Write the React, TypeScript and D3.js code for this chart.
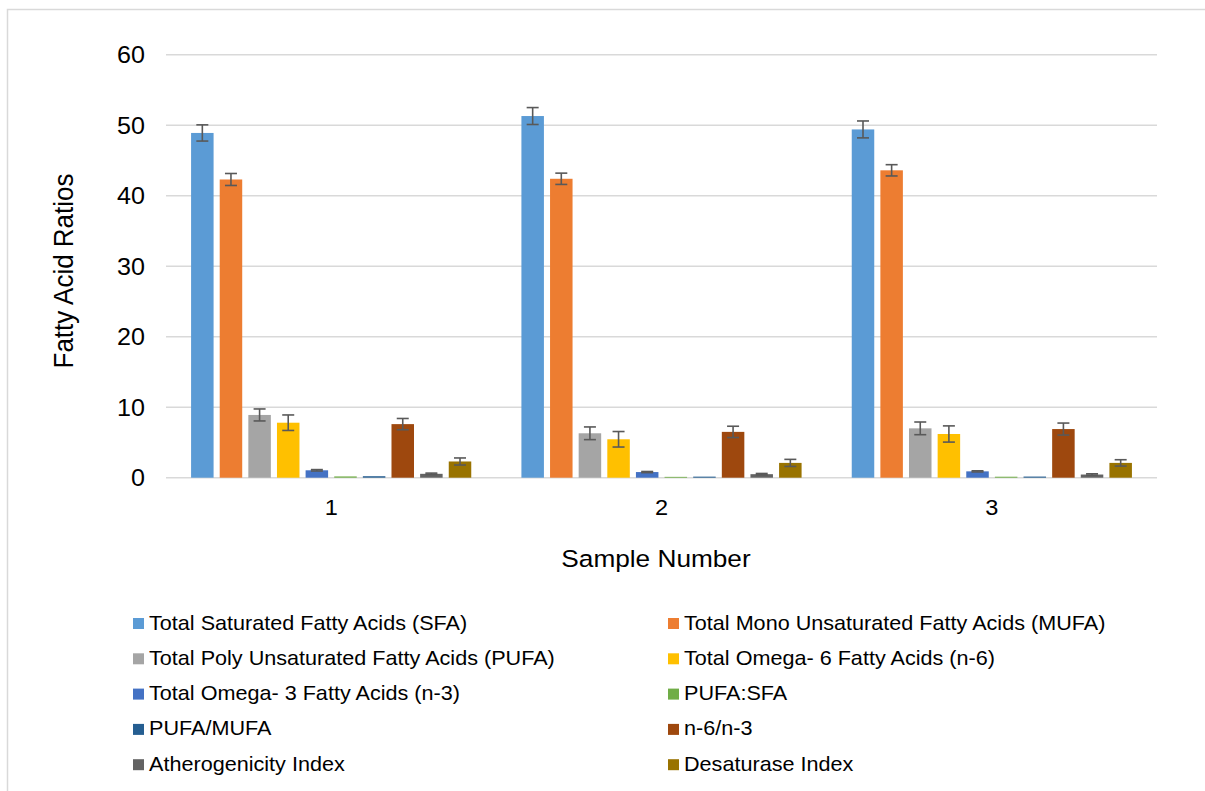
import React from "react";
import * as d3 from "d3";

const categories = ["1", "2", "3"];
const seriesNames = [
  "Total Saturated Fatty Acids (SFA)",
  "Total Mono Unsaturated Fatty Acids (MUFA)",
  "Total Poly Unsaturated Fatty Acids (PUFA)",
  "Total Omega- 6 Fatty Acids (n-6)",
  "Total Omega- 3 Fatty Acids (n-3)",
  "PUFA:SFA",
  "PUFA/MUFA",
  "n-6/n-3",
  "Atherogenicity Index",
  "Desaturase Index",
];
const seriesColors = [
  "#5B9BD5", "#ED7D31", "#A5A5A5", "#FFC000", "#4472C4",
  "#70AD47", "#255E91", "#9E480E", "#636363", "#997300",
];
const sfa = [48.9, 51.3, 49.4];
const mufa = [42.3, 42.4, 43.6];
const pufa = [8.9, 6.3, 7.0];
const n6 = [7.8, 5.45, 6.2];
const n3 = [1.05, 0.8, 0.9];
const pufaSfa = [0.18, 0.12, 0.14];
const pufaMufa = [0.21, 0.15, 0.16];
const n6n3 = [7.6, 6.5, 6.9];
const athero = [0.55, 0.5, 0.45];
const desat = [2.3, 2.1, 2.1];
const seriesValues = [sfa, mufa, pufa, n6, n3, pufaSfa, pufaMufa, n6n3, athero, desat];

const sfaErr = [1.15, 1.2, 1.2];
const mufaErr = [0.85, 0.8, 0.8];
const pufaErr = [0.85, 0.9, 0.9];
const n6Err = [1.1, 1.1, 1.15];
const n3Err = [0.1, 0.08, 0.08];
const pufaSfaErr = [0, 0, 0];
const pufaMufaErr = [0, 0, 0];
const n6n3Err = [0.8, 0.8, 0.85];
const atheroErr = [0.1, 0.1, 0.1];
const desatErr = [0.5, 0.5, 0.45];
const seriesErrors = [sfaErr, mufaErr, pufaErr, n6Err, n3Err, pufaSfaErr, pufaMufaErr, n6n3Err, atheroErr, desatErr];

const yTicks = [0, 10, 20, 30, 40, 50, 60];

const FONT = "Liberation Sans, Arial, sans-serif";
const SX = 1.07;

export default function App() {
  const W = 1205, H = 791;
  const x0 = d3.scaleBand().domain(categories).range([166, 1157]).padding(0);
  const x1 = d3.scaleBand().domain(seriesNames).range([0, x0.bandwidth()]).paddingInner(0.214).paddingOuter(0.876);
  const y = d3.scaleLinear().domain([0, 60]).range([477.7, 54.7]);

  return (
    <svg width={W} height={H} style={{ position: "absolute", left: 0, top: 0, background: "#fff" }} fontFamily={FONT}>
      <rect x={7.5} y={9.5} width={1210} height={800} fill="#fff" stroke="#d9d9d9" strokeWidth={1.5} />
      {yTicks.map((t) => (
        <g key={t}>
          <line x1={166} x2={1157} y1={y(t)} y2={y(t)} stroke="#d9d9d9" strokeWidth={1.4} />
          <text transform={`translate(145,${y(t) + 8.5}) scale(${SX},1)`} textAnchor="end" fontSize={23.5} fill="#000">{t}</text>
        </g>
      ))}
      {categories.map((c, ci) => (
        <g key={c}>
          {seriesNames.map((s, si) => {
            const v = seriesValues[si][ci];
            const e = seriesErrors[si][ci];
            const bx = (x0(c) as number) + (x1(s) as number);
            const bw = x1.bandwidth();
            const cx = bx + bw / 2;
            return (
              <g key={s}>
                <rect x={bx} y={y(v)} width={bw} height={y(0) - y(v)} fill={seriesColors[si]} />
                {e > 0 && (
                  <g stroke="#595959" strokeWidth={1.6}>
                    <line x1={cx} x2={cx} y1={y(v + e)} y2={y(v - e)} />
                    <line x1={cx - 6} x2={cx + 6} y1={y(v + e)} y2={y(v + e)} />
                    <line x1={cx - 6} x2={cx + 6} y1={y(v - e)} y2={y(v - e)} />
                  </g>
                )}
              </g>
            );
          })}
          <text transform={`translate(${(x0(c) as number) + x0.bandwidth() / 2},515) scale(${SX},1)`} textAnchor="middle" fontSize={22} fill="#000">{c}</text>
        </g>
      ))}
      <text transform={`translate(72.5,271) scale(${SX},1) rotate(-90)`} textAnchor="middle" fontSize={26} fill="#000">Fatty Acid Ratios</text>
      <text transform={`translate(656,567) scale(${SX},1)`} textAnchor="middle" fontSize={24.5} fill="#000">Sample Number</text>
      {seriesNames.map((s, i) => {
        const col = i % 2;
        const row = Math.floor(i / 2);
        const base = 629.5 + row * 35.3;
        const sx = col === 0 ? 133 : 668;
        return (
          <g key={s}>
            <rect x={sx} y={base - 11.5} width={11} height={11} fill={seriesColors[i]} />
            <text transform={`translate(${sx + 16},${base}) scale(${SX},1)`} fontSize={20.2} fill="#000">{s}</text>
          </g>
        );
      })}
    </svg>
  );
}
